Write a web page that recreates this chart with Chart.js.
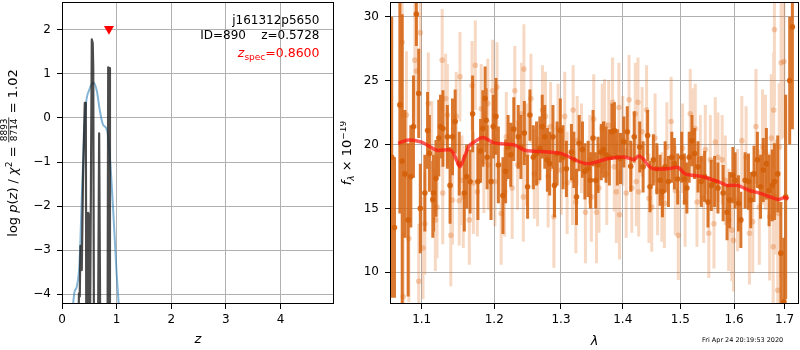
<!DOCTYPE html>
<html>
<head>
<meta charset="utf-8">
<script src="https://cdn.jsdelivr.net/npm/chart.js@4.4.1/dist/chart.umd.min.js"></script>
<style>
  html, body { margin: 0; padding: 0; background: #fff; }
  #wrap { position: relative; width: 800px; height: 350px; overflow: hidden; }
  #pz { position: absolute; left: 0; top: 0; }
  #spec { position: absolute; left: 340px; top: 0; }
</style>
</head>
<body>
<div id="wrap">
  <canvas id="pz" width="340" height="350"></canvas>
  <canvas id="spec" width="460" height="350"></canvas>
</div>
<script>
// ---- p(z) panel ----
const zTicks = [0, 1, 2, 3, 4];
const lnpTicks = [-4, -3, -2, -1, 0, 1, 2];

// log p(z) from the template fit (spiky) and the smoothed prior curve
const zFit = [0.29, 0.31, 0.325, 0.338, 0.362, 0.386, 0.417, 0.436, 0.447, 0.478, 0.496, 0.507,
  0.546, 0.562, 0.572, 0.587, 0.655, 0.68, 0.705, 0.832, 0.846, 0.864, 0.878];
const lnpFit = [-6, -3.98, -4.05, -2.9, -3.45, -1.25, 0.34, 0.34, -6, -2.15, -2.22, -6,
  1.78, 1.7, 1.15, -6, -6, -0.35, -6, -6, 1.15, 1.13, -6];
const zPrior = [0.2, 0.23, 0.27, 0.32, 0.37, 0.43, 0.5, 0.58, 0.64, 0.69, 0.75, 0.83, 0.88, 0.94, 1.0, 1.04];
const lnpPrior = [-4.25, -3.94, -3.83, -3.3, -1.55, 0.19, 0.64, 0.8, 0.6, 0.19, -0.15, -0.3, -0.95, -2.16, -3.52, -4.25];

const zSpec = 0.86;
const zSpecMarkY = 2.02;

// ---- spectrum panel ----
const lamTicks = [1.1, 1.2, 1.3, 1.4, 1.5, 1.6, 1.7];
const fluxTicks = [10, 15, 20, 25, 30];

// first grism set (strong)
const lamA = [
  1.0612, 1.0647, 1.0716, 1.0746, 1.0781, 1.0823, 1.0858, 1.0892, 1.0930, 1.0961,
  1.0982, 1.1042, 1.1078, 1.1102, 1.1148, 1.1158, 1.1190, 1.1228, 1.1251, 1.1284,
  1.1344, 1.1381, 1.1414, 1.1451, 1.1507, 1.1577, 1.1609, 1.1657, 1.1693, 1.1768,
  1.1805, 1.1838, 1.1870, 1.1884, 1.1898, 1.1954, 1.1986, 1.2025, 1.2060, 1.2126,
  1.2165, 1.2201, 1.2240, 1.2285, 1.2351, 1.2390, 1.2441, 1.2490, 1.2525, 1.2576,
  1.2625, 1.2675, 1.2711, 1.2750, 1.2790, 1.2825, 1.2876, 1.2900, 1.2940, 1.2990,
  1.3032, 1.3085, 1.3164, 1.3203, 1.3244, 1.3287, 1.3340, 1.3378, 1.3431, 1.3467,
  1.3510, 1.3553, 1.3590, 1.3643, 1.3681, 1.3722, 1.3777, 1.3818, 1.3861, 1.3909,
  1.3962, 1.4018, 1.4076, 1.4134, 1.4194, 1.4288, 1.4346, 1.4424, 1.4465, 1.4523,
  1.4583, 1.4641, 1.4682, 1.4730, 1.4788, 1.4848, 1.4894, 1.4954, 1.5026, 1.5074,
  1.5119, 1.5161, 1.5211, 1.5259, 1.5322, 1.5383, 1.5444, 1.5507, 1.5568, 1.5630,
  1.5693, 1.5791, 1.5865, 1.5915, 1.5976, 1.6019, 1.6085, 1.6130, 1.6213, 1.6278,
  1.6323, 1.6387, 1.6453, 1.6516, 1.6569, 1.6632, 1.6685, 1.6749, 1.6793, 1.6859,
  1.6923, 1.6986, 1.7021, 1.7103, 1.7158];
const fluxA = [
  19.0, 13.5, 23.1, 18.7, 17.7, 14.1, 17.5, 21.4, 30.2, 24.0,
  15.0, 16.2, 21.1, 19.3, 15.7, 16.2, 17.35, 20.5, 21.4, 21.25,
  20.6, 16.8, 20.6, 21.8, 18.5, 16.2, 17.5, 17.1, 22.4, 17.1,
  19.5, 21.25, 23.6, 21.9, 19.0, 17.1, 21.4, 22.2, 18.4, 16.0,
  17.9, 19.8, 19.2, 21.2, 20.6, 19.8, 20.9, 16.7, 22.3, 19.0,
  19.3, 19.7, 21.4, 20.6, 18.8, 18.5, 20.6, 16.8, 19.3, 21.1,
  19.0, 18.1, 19.4, 18.8, 15.9, 20.1, 19.6, 17.9, 18.1, 17.2,
  20.5, 17.2, 18.4, 19.4, 19.6, 19.2, 19.0, 21.0, 21.1, 19.0,
  18.9, 20.2, 21.0, 18.3, 20.6, 19.8, 18.25, 20.7, 16.7, 18.8,
  18.1, 17.2, 16.3, 18.25, 17.1, 19.0, 18.5, 17.3, 19.0, 17.3,
  16.6, 19.0, 20.3, 19.3, 18.25, 17.1, 17.5, 15.5, 16.8, 17.1,
  16.6, 16.2, 14.7, 15.65, 17.6, 17.2, 15.4, 14.1, 17.2, 17.1,
  15.65, 17.7, 18.8, 16.7, 18.0, 18.5, 16.4, 16.8, 17.1, 17.7,
  11.5, 7.7, 15.9, 25.0, 29.2];
const errA = [
  11, 5.5, 8.5, 11.5, 5, 6, 4, 4, 2.5, 3.5,
  3.5, 3, 3, 3, 3, 3, 3, 3, 2.5, 3,
  2.5, 3, 3, 2.5, 2.5, 3, 2.5, 2.5, 3, 3,
  2.5, 3, 2.5, 2.5, 2.5, 3, 2.5, 3, 3, 3,
  2.5, 2.5, 2.5, 2.5, 2.5, 2.5, 2.5, 2.5, 2, 2.5,
  2.5, 2.5, 2.5, 2.5, 2.5, 2.5, 2.5, 2.5, 2.5, 2.5,
  2.5, 2.2, 2.2, 2.2, 2.2, 2.2, 2.2, 2.2, 2.2, 2.2,
  2.2, 2.2, 2.2, 2.2, 2.2, 2.2, 2.2, 2.2, 2.2, 2.2,
  2, 2, 2, 2, 2, 2, 2, 2, 2, 2,
  2, 2, 2, 2, 2, 2, 2, 2, 2, 2,
  2, 2, 2, 2, 2, 2, 2, 2, 2, 2,
  2, 2.2, 2.2, 2.2, 2.2, 2.2, 2.2, 2.2, 2.2, 2.2,
  2.2, 2.2, 2.2, 2.5, 2.5, 2.8, 2.8, 2.8, 3, 3,
  4, 5, 8, 5, 8];

// second grism set (faint)
const lamB = [
  1.0746, 1.0759, 1.0801, 1.0832, 1.0910, 1.0930, 1.0961, 1.0982, 1.1018, 1.1042,
  1.1088, 1.1134, 1.1182, 1.1204, 1.1274, 1.1281, 1.1321, 1.1344, 1.1391, 1.1414,
  1.1465, 1.1507, 1.1517, 1.1545, 1.1563, 1.1647, 1.1685, 1.1703, 1.1731, 1.1759,
  1.1814, 1.1852, 1.1908, 1.1916, 1.1978, 1.2010, 1.2040, 1.2100, 1.2150, 1.2175,
  1.2261, 1.2300, 1.2340, 1.2400, 1.2426, 1.2435, 1.2475, 1.2540, 1.2591, 1.2640,
  1.2715, 1.2760, 1.2801, 1.2840, 1.2890, 1.2955, 1.3005, 1.3059, 1.3096, 1.3180,
  1.3191, 1.3234, 1.3255, 1.3323, 1.3387, 1.3457, 1.3483, 1.3521, 1.3566, 1.3606,
  1.3659, 1.3697, 1.3734, 1.3766, 1.3830, 1.3857, 1.3893, 1.3936, 1.3946, 1.4000,
  1.4058, 1.4106, 1.4152, 1.4212, 1.4230, 1.4258, 1.4270, 1.4329, 1.4406, 1.4447,
  1.4495, 1.4553, 1.4597, 1.4671, 1.4717, 1.4760, 1.4836, 1.4910, 1.4965, 1.5041,
  1.5087, 1.5180, 1.5226, 1.5272, 1.5303, 1.5365, 1.5426, 1.5457, 1.5522, 1.5550,
  1.5618, 1.5643, 1.5693, 1.5772, 1.5833, 1.5896, 1.5957, 1.5989, 1.6066, 1.6149,
  1.6232, 1.6298, 1.6362, 1.6425, 1.6491, 1.6555, 1.6613, 1.6696, 1.6729, 1.6768,
  1.6778, 1.6793, 1.6813, 1.6859, 1.6878, 1.6890, 1.6928, 1.6986];
const fluxB = [
  28.0, 8.1, 22.3, 12.65, 26.6, 25.75, 9.3, 28.75, 11.9, 13.8,
  23.2, 19.4, 14.1, 15.1, 26.6, 16.2, 23.6, 22.3, 12.9, 15.65,
  22.2, 15.6, 25.3, 17.2, 15.9, 14.1, 24.6, 17.0, 26.2, 16.3,
  22.8, 18.65, 23.2, 18.4, 24.2, 17.1, 24.5, 14.6, 16.3, 20.6,
  16.6, 24.2, 18.4, 22.4, 15.9, 25.9, 19.2, 23.6, 17.7, 17.1,
  22.7, 22.2, 17.5, 21.4, 14.35, 21.25, 18.0, 22.2, 17.0, 17.2,
  22.7, 15.5, 20.3, 19.7, 14.7, 18.8, 15.9, 22.0, 14.7, 16.6,
  21.25, 21.6, 17.7, 21.5, 23.3, 18.25, 16.3, 22.9, 14.5, 20.3,
  16.2, 23.5, 16.6, 22.4, 17.1, 23.3, 16.3, 21.0, 22.7, 15.8,
  15.1, 20.5, 16.4, 15.9, 15.4, 19.8, 21.8, 16.4, 12.9, 19.7,
  15.5, 22.4, 20.9, 21.25, 15.5, 18.8, 15.8, 19.6, 13.05, 18.8,
  13.8, 20.2, 19.0, 18.8, 17.2, 14.1, 13.3, 12.5, 15.65, 20.3,
  19.0, 13.05, 13.95, 21.4, 15.1, 19.8, 19.4, 14.35, 20.5, 12.0,
  22.7, 29.0, 15.9, 8.6, 14.6, 19.8, 26.4, 26.5];
const errB = [
  6, 5, 5, 5, 4.5, 4.5, 4.5, 4.5, 4, 4,
  4, 4, 4, 4, 4, 4, 3.5, 4, 4, 3.5,
  3.5, 3.5, 3.5, 3.5, 4, 3.5, 3.5, 4, 3.5, 3.5,
  3.5, 4, 3.5, 3.5, 4, 3.5, 3.5, 4, 3.5, 3.5,
  4, 3.5, 3.5, 4, 3.5, 3.5, 4, 3.5, 3.5, 3.5,
  3.5, 3.5, 4, 3.5, 4, 3.5, 3.5, 3.5, 4, 3.5,
  3.5, 4, 3.5, 3.5, 4, 3.5, 3.5, 3.5, 4, 3.5,
  3.5, 3.5, 4, 3.5, 3.5, 3.5, 4, 3.5, 3.5, 3.5,
  3.5, 3.5, 3.5, 4, 3.5, 3.5, 3.5, 3.5, 3.5, 3.5,
  3.5, 3.5, 3.5, 3.5, 3.5, 3.5, 3.5, 3.5, 3.5, 3.5,
  3.5, 3.5, 3.5, 3.5, 3.5, 3.5, 3.5, 3.5, 3.5, 3.5,
  3.5, 3.5, 3.5, 3.5, 3.5, 4, 4, 4, 4, 3.5,
  4, 4, 4, 4.5, 4.5, 4.5, 4.5, 5, 5, 5,
  4.5, 6, 4.5, 6, 5, 5, 6, 6];

// best-fit template
const lamModel = [1.0694, 1.0823, 1.0995, 1.1088, 1.1204, 1.1391, 1.1461, 1.1517, 1.1577, 1.1647,
  1.1717, 1.1838, 1.2, 1.23, 1.245, 1.2801, 1.3, 1.3399, 1.3745, 1.4011,
  1.4187, 1.427, 1.4341, 1.4447, 1.4535, 1.4783, 1.496, 1.5087, 1.5383, 1.5698,
  1.5865, 1.6066, 1.6298, 1.6496, 1.6859, 1.6955, 1.7021, 1.7074];
const fluxModel = [20.08, 20.35, 20.2, 19.9, 19.55, 19.55, 18.9, 18.25, 19.0, 19.9,
  20.2, 20.55, 20.13, 19.95, 19.55, 19.42, 19.3, 18.5, 18.88, 19.03,
  18.83, 19.1, 18.9, 18.3, 18.1, 18.1, 18.2, 17.7, 17.5, 17.1,
  16.8, 16.8, 16.4, 16.2, 15.7, 15.8, 15.85, 15.7];

const FONT = '"DejaVu Sans", sans-serif';
Chart.defaults.font.family = FONT;
Chart.defaults.color = '#000';

const pts = (xs, ys) => xs.map((x, i) => ({ x: x, y: ys[i] }));

// vertical error bars as broken line segments (null breaks the line)
function errorSegments(lam, flux, err) {
  const out = [];
  lam.forEach((l, i) => {
    out.push({ x: l, y: flux[i] - err[i] }, { x: l, y: flux[i] + err[i] }, { x: l, y: null });
  });
  return out;
}

const tickFmt = v => (v < 0 ? '\u2212' + (-v) : String(v));

function fontStr(size, italic) {
  return (italic ? 'italic ' : '') + size + 'px ' + FONT;
}

// mixed-style text run (italics, sub/superscripts, a stacked fraction)
function runWidth(ctx, parts) {
  let w = 0;
  for (const p of parts) {
    ctx.font = fontStr(p.s, p.it);
    if (p.frac) w += Math.max(ctx.measureText(p.num).width, ctx.measureText(p.den).width) + 2;
    else w += ctx.measureText(p.t).width;
  }
  return w;
}

function drawRun(ctx, parts, x, y) {
  ctx.textAlign = 'left';
  ctx.textBaseline = 'alphabetic';
  for (const p of parts) {
    ctx.font = fontStr(p.s, p.it);
    if (p.frac) {
      const wn = ctx.measureText(p.num).width;
      const wd = ctx.measureText(p.den).width;
      const w = Math.max(wn, wd) + 2;
      ctx.fillText(p.num, x + (w - wn) / 2, y - 9.8);
      ctx.fillRect(x, y - 8.6, w, 0.8);
      ctx.fillText(p.den, x + (w - wd) / 2, y - 0.2);
      x += w;
    } else {
      ctx.fillText(p.t, x, y + (p.dy || 0));
      x += ctx.measureText(p.t).width;
    }
  }
}

function frame(ctx, a) {
  ctx.strokeStyle = '#000';
  ctx.lineWidth = 1;
  ctx.strokeRect(a.left + 0.5, a.top + 0.5, a.right - a.left - 1, a.bottom - a.top - 1);
}

function fixedAxis(size) {
  return s => {
    if (s.isHorizontal()) s.height = size; else s.width = size;
    s.paddingTop = 0; s.paddingBottom = 0; s.paddingLeft = 0; s.paddingRight = 0;
  };
}

const gridOpts = { color: '#b0b0b0', lineWidth: 1, tickColor: '#000', tickLength: 5, tickWidth: 1 };

const pzDecor = {
  id: 'pzDecor',
  afterDraw(chart) {
    const { ctx, chartArea: a } = chart;
    ctx.save();
    frame(ctx, a);

    ctx.fillStyle = '#000';
    ctx.font = fontStr(12);
    ctx.textAlign = 'right';
    ctx.textBaseline = 'alphabetic';
    ctx.fillText('j161312p5650', a.right - 14.5, 24);
    ctx.fillText('ID=890    z=0.5728', a.right - 14.5, 39);

    ctx.fillStyle = '#ff0000';
    const zs = [{ t: 'z', s: 12.5, it: true }, { t: 'spec', s: 9, dy: 2.5 }, { t: '=0.8600', s: 12.5 }];
    drawRun(ctx, zs, a.right - 14.5 - runWidth(ctx, zs), 57);

    ctx.fillStyle = '#000';
    ctx.font = fontStr(13, true);
    ctx.textAlign = 'center';
    ctx.fillText('z', (a.left + a.right) / 2, 343);

    const yl = [
      { t: 'log ', s: 13 }, { t: 'p', s: 13, it: true }, { t: '(', s: 13 }, { t: 'z', s: 13, it: true },
      { t: ')', s: 13 }, { t: ' / ', s: 13 }, { t: '\u03c7', s: 13, it: true }, { t: '2', s: 9, dy: -5 },
      { t: ' = ', s: 13 }, { frac: true, num: '8893', den: '8714', s: 9 }, { t: ' = 1.02', s: 13 }
    ];
    ctx.translate(17, (a.top + a.bottom) / 2);
    ctx.rotate(-Math.PI / 2);
    drawRun(ctx, yl, -runWidth(ctx, yl) / 2, 0);
    ctx.restore();
  }
};

const specDecor = {
  id: 'specDecor',
  afterDraw(chart) {
    const { ctx, chartArea: a } = chart;
    ctx.save();
    frame(ctx, a);

    ctx.fillStyle = '#000';
    ctx.font = fontStr(13, true);
    ctx.textAlign = 'center';
    ctx.textBaseline = 'alphabetic';
    ctx.fillText('\u03bb', (a.left + a.right) / 2, 345);

    ctx.font = fontStr(6.5);
    ctx.textAlign = 'left';
    ctx.fillText('Fri Apr 24 20:19:53 2020', 362, 342);

    const yl = [
      { t: 'f', s: 13, it: true }, { t: '\u03bb', s: 9, it: true, dy: 3 },
      { t: ' \u00d7 10', s: 13 }, { t: '\u221219', s: 9, dy: -5 }
    ];
    ctx.translate(11, (a.top + a.bottom) / 2);
    ctx.rotate(-Math.PI / 2);
    drawRun(ctx, yl, -runWidth(ctx, yl) / 2, 0);
    ctx.restore();
  }
};

const common = {
  responsive: false,
  animation: false,
  devicePixelRatio: 1,
  events: [],
  plugins: { legend: { display: false }, tooltip: { enabled: false } }
};

new Chart(document.getElementById('pz'), {
  type: 'scatter',
  data: {
    datasets: [
      {
        data: pts([zSpec], [zSpecMarkY]),
        pointStyle: 'triangle', rotation: 180, pointRadius: 5.8,
        backgroundColor: '#ff0000', borderColor: '#ff0000', borderWidth: 0, order: 0
      },
      {
        data: pts(zFit, lnpFit), showLine: true, pointRadius: 0,
        borderColor: 'rgba(30,30,30,0.8)', borderWidth: 2.2, borderJoinStyle: 'round', order: 1
      },
      {
        data: pts(zPrior, lnpPrior), showLine: true, pointRadius: 0,
        borderColor: 'rgba(31,119,180,0.55)', borderWidth: 2, cubicInterpolationMode: 'monotone', order: 2
      }
    ]
  },
  options: Object.assign({}, common, {
    layout: { autoPadding: false, padding: { top: 2, right: 6, left: 0, bottom: 0 } },
    scales: {
      x: {
        type: 'linear', min: 0, max: 4.98,
        afterBuildTicks: ax => { ax.ticks = zTicks.map(v => ({ value: v })); },
        afterFit: fixedAxis(46),
        grid: gridOpts, border: { display: false },
        ticks: { font: { size: 12 }, padding: 4, maxRotation: 0, autoSkip: false, callback: tickFmt }
      },
      y: {
        type: 'linear', min: -4.22, max: 2.63,
        afterBuildTicks: ax => { ax.ticks = lnpTicks.map(v => ({ value: v })); },
        afterFit: fixedAxis(62),
        grid: gridOpts, border: { display: false },
        ticks: { font: { size: 12 }, padding: 6, autoSkip: false, callback: tickFmt }
      }
    }
  }),
  plugins: [pzDecor]
});

new Chart(document.getElementById('spec'), {
  type: 'scatter',
  data: {
    datasets: [
      {
        data: pts(lamModel, fluxModel), showLine: true, pointRadius: 0,
        borderColor: 'rgba(255,20,20,0.7)', borderWidth: 3.5, tension: 0.3, order: 0
      },
      {
        data: pts(lamA, fluxA), pointRadius: 2.8, borderWidth: 0,
        backgroundColor: 'rgba(212,96,10,0.9)', order: 1
      },
      {
        data: errorSegments(lamA, fluxA, errA), showLine: true, spanGaps: false, pointRadius: 0,
        borderColor: 'rgba(212,96,10,0.85)', borderWidth: 3, order: 2
      },
      {
        data: pts(lamB, fluxB), pointRadius: 2.8, borderWidth: 0,
        backgroundColor: 'rgba(225,110,30,0.32)', order: 3
      },
      {
        data: errorSegments(lamB, fluxB, errB), showLine: true, spanGaps: false, pointRadius: 0,
        borderColor: 'rgba(225,110,30,0.27)', borderWidth: 3, order: 4
      }
    ]
  },
  options: Object.assign({}, common, {
    layout: { autoPadding: false, padding: { top: 2, right: 1, left: 0, bottom: 0 } },
    scales: {
      x: {
        type: 'logarithmic', min: 1.059, max: 1.7295,
        afterBuildTicks: ax => { ax.ticks = lamTicks.map(v => ({ value: v })); },
        afterFit: fixedAxis(46),
        grid: gridOpts, border: { display: false },
        ticks: { font: { size: 12 }, padding: 4, maxRotation: 0, autoSkip: false, callback: v => Number(v).toFixed(1) }
      },
      y: {
        type: 'linear', min: 7.52, max: 31.15,
        afterBuildTicks: ax => { ax.ticks = fluxTicks.map(v => ({ value: v })); },
        afterFit: fixedAxis(50),
        grid: gridOpts, border: { display: false },
        ticks: { font: { size: 12 }, padding: 6, autoSkip: false, callback: tickFmt }
      }
    }
  }),
  plugins: [specDecor]
});
</script>
</body>
</html>
